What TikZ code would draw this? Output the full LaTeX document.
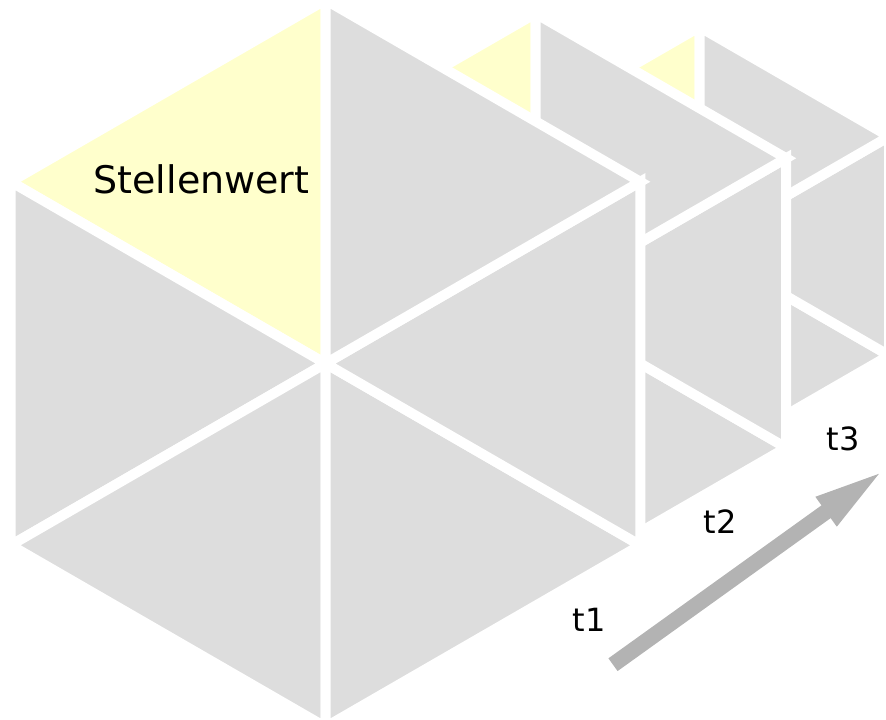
\documentclass[tikz,border=0pt]{standalone}
\usepackage{fontspec}
\setmainfont{DejaVu Sans}
\usetikzlibrary{arrows.meta}
\definecolor{hexgray}{HTML}{DDDDDD}
\definecolor{hexyellow}{HTML}{FFFFCC}
\definecolor{arrowgray}{HTML}{B3B3B3}
\tikzset{
  piece/.style={fill=hexgray, draw=white, line width=10pt, line join=miter},
  hilite/.style={fill=hexyellow, draw=white, line width=10pt, line join=miter},
  timelabel/.style={anchor=base, inner sep=0pt, font=\fontsize{32}{36}\selectfont},
  bigarrow/.style={draw=arrowgray, line width=15.7pt, -{Triangle[length=75pt,width=31pt]}}
}
% #1 cx, #2 cy, #3 R, #4 name prefix
\newcommand\hexpieces[4]{%
  \coordinate (#4c)  at (#1,#2);
  \coordinate (#4t)  at ({#1},{#2-#3});
  \coordinate (#4ul) at ({#1-0.8660254*#3},{#2-0.5*#3});
  \coordinate (#4ll) at ({#1-0.8660254*#3},{#2+0.5*#3});
  \coordinate (#4b)  at ({#1},{#2+#3});
  \coordinate (#4lr) at ({#1+0.8660254*#3},{#2+0.5*#3});
  \coordinate (#4ur) at ({#1+0.8660254*#3},{#2-0.5*#3});
  \path[hilite] (#4c) -- (#4t) -- (#4ul) -- cycle;
  \path[piece] (#4c) -- (#4ul) -- (#4ll) -- cycle;
  \path[piece] (#4c) -- (#4ll) -- (#4b) -- cycle;
  \path[piece] (#4c) -- (#4b) -- (#4lr) -- cycle;
  \path[piece] (#4c) -- (#4lr) -- (#4ur) -- cycle;
  \path[piece] (#4c) -- (#4ur) -- (#4t) -- cycle;
}
\begin{document}
\begin{tikzpicture}[x=1pt,y=-1pt]
  \useasboundingbox (0,0) rectangle (886,720);
  \clip (0,0) rectangle (886,720);
  % back to front
  \hexpieces{699.5}{246}{219}{h3}
  \hexpieces{535.5}{303}{289.5}{h2}
  \hexpieces{325.5}{363.5}{363.5}{h1}
  \node[anchor=base, inner sep=0pt, font=\fontsize{38}{42}\selectfont] (stellen) at (201.5,193) {Stellenwert};
  \node[timelabel] (t1) at (589,631) {t1};
  \node[timelabel] (t2) at (720,533) {t2};
  \node[timelabel] (t3) at (843,450) {t3};
  \coordinate (astart) at (613,664.7);
  \coordinate (aend) at (887,468);
  \draw[bigarrow] (astart) -- (aend);
\end{tikzpicture}
\end{document}
